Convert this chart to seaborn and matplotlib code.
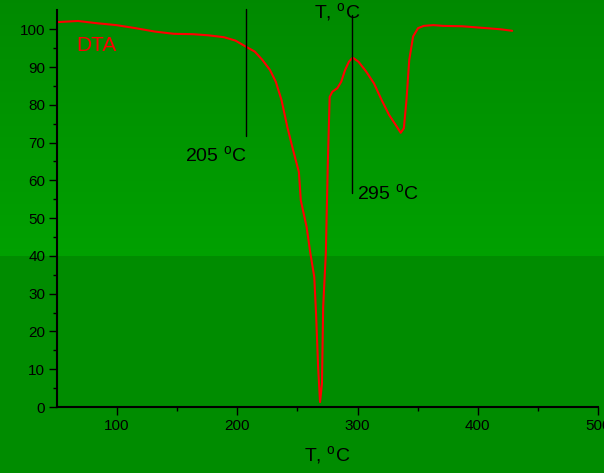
import numpy as np
import pandas as pd
import matplotlib
matplotlib.use("Agg")
import matplotlib.pyplot as plt
import seaborn as sns

# Dados da curva DTA
temperatura = [50.4, 67.4, 83.4, 99.4, 115.3, 131.3, 147.3, 163.3, 176.0, 188.9,
               198.5, 207.1, 214.5, 220.8, 227.2, 232.0, 236.8, 241.6, 246.4, 251.2,
               252.8, 257.6, 260.8, 264.0, 265.6, 267.2, 268.8, 270.4, 271.4, 273.6,
               275.2, 276.8, 279.1, 283.2, 286.4, 289.6, 292.8, 296.0, 300.8, 307.2,
               313.6, 320.0, 326.3, 332.7, 335.9, 338.5, 340.7, 343.0, 346.2, 350.3,
               355.1, 363.1, 371.1, 387.1, 403.1, 419.0, 428.6]
dta = [101.9, 102.2, 101.6, 101.1, 100.3, 99.4, 98.8, 98.7, 98.4, 97.9,
       97.0, 95.4, 94.1, 91.9, 89.2, 86.1, 81.2, 74.1, 68.0, 62.2,
       54.7, 47.7, 40.6, 34.4, 23.8, 10.6, 1.3, 6.2, 26.5, 40.6,
       63.6, 82.1, 83.5, 84.4, 86.1, 89.2, 91.4, 92.5, 91.4, 88.8,
       85.7, 81.3, 77.3, 74.2, 72.6, 73.8, 81.3, 91.9, 98.1, 100.3,
       100.9, 101.1, 100.9, 100.8, 100.4, 100.0, 99.6]

# Marcadores verticais (temperatura, y inicial, y final)
marcadores_t = [207, 295]
marcadores_y0 = [71.7, 56.7]
marcadores_y1 = [105.3, 103.8]

xticks = [100, 200, 300, 400, 500]
yticks = [0, 10, 20, 30, 40, 50, 60, 70, 80, 90, 100]

df = pd.DataFrame({"T": temperatura, "DTA": dta})

sns.set_theme(style="ticks")
plt.rcParams["font.family"] = ["Liberation Sans", "DejaVu Sans"]
plt.rcParams["mathtext.fontset"] = "custom"
plt.rcParams["mathtext.rm"] = "Liberation Sans"

fig = plt.figure(figsize=(6.04, 4.73), dpi=100)

# Fundo verde com gradiente
H = 473
topo = np.array([0.0, 0.54, 0.0])
meio = np.array([0.0, 0.63, 0.0])
baixo = np.array([0.0, 0.55, 0.0])
grad = np.zeros((H, 1, 3))
corte = 256
for i in range(H):
    if i < corte:
        f = i / corte
        grad[i, 0] = topo * (1 - f) + meio * f
    else:
        grad[i, 0] = baixo
bg = fig.add_axes([0, 0, 1, 1], zorder=0)
bg.imshow(grad, aspect="auto", extent=[0, 1, 0, 1], interpolation="nearest")
bg.axis("off")

ax = fig.add_axes([57 / 604, 66 / 473, 541 / 604, 396.6 / 473], zorder=1)
ax.set_facecolor("none")

sns.lineplot(data=df, x="T", y="DTA", ax=ax, color="#ff0000", linewidth=1.5)

for t, y0, y1 in zip(marcadores_t, marcadores_y0, marcadores_y1):
    ax.plot([t, t], [y0, y1], color="black", linewidth=1.0, clip_on=False)

ax.set_xlim(50, 500)
ax.set_ylim(0, 105)
ax.set_xticks(xticks)
ax.set_yticks(yticks)
ax.set_xticks([150, 250, 350, 450], minor=True)
ax.set_yticks(np.arange(5, 105, 10), minor=True)
ax.tick_params(axis="both", which="major", direction="out", length=5.5, width=1.0,
               color="black", labelsize=11, labelcolor="black", pad=3)
ax.tick_params(axis="both", which="minor", direction="out", length=2.7, width=1.0,
               color="black")
for s in ["top", "right"]:
    ax.spines[s].set_visible(False)
for s in ["left", "bottom"]:
    ax.spines[s].set_linewidth(1.5)
    ax.spines[s].set_color("black")

ax.set_xlabel(r"T, $^\mathrm{o}$C", fontsize=14, color="black", labelpad=8)
ax.set_ylabel("")

ax.text(156.4, 64.9, r"205 $^\mathrm{o}$C", fontsize=14, color="black")
ax.text(299.5, 54.8, r"295 $^\mathrm{o}$C", fontsize=14, color="black")
ax.text(263.5, 102.9, r"T, $^\mathrm{o}$C", fontsize=14, color="black", clip_on=False)
ax.text(66, 94.2, "DTA", fontsize=15, color="#ff0000")

fig.savefig("out.png", dpi=100)
